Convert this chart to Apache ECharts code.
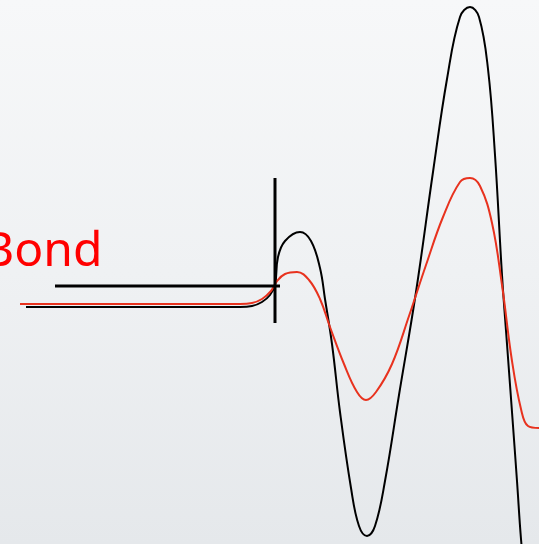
<!DOCTYPE html>
<html>
<head>
<meta charset="utf-8">
<script src="https://cdn.jsdelivr.net/npm/echarts@6/dist/echarts.min.js"></script>
<style>
    html, body { margin: 0; padding: 0; }
    #chart { width: 539px; height: 544px; }
</style>
</head>
<body>
<div id="chart"></div>
<script>
    // 黑色曲线 (time, amplitude)
    var blackX = [26, 240, 252, 262, 270, 275, 278, 285, 300, 311, 320, 325, 332, 340, 351, 359, 367, 375, 385, 399, 416, 433, 447, 460, 470, 479, 488, 495, 502, 507, 512, 517, 521, 524];
    var blackY = [0, 0, 1, 5, 12, 22, 50, 66, 75, 66, 39, 8, -37, -105, -181, -219, -229, -219, -174, -88, 15, 135, 228, 290, 300, 290, 238, 152, 32, -37, -105, -174, -232, -260];
    // 红色曲线
    var redX = [20, 240, 252, 262, 271, 277, 285, 297, 309, 320, 330, 344, 357, 366, 376, 392, 409, 426, 443, 460, 470, 480, 492, 502, 512, 521, 528, 539];
    var redY = [3, 3, 4, 8, 16, 26, 33, 35, 27, 8, -20, -57, -85, -93, -85, -57, -9, 42, 90, 125, 129, 121, 84, 22, -54, -102, -119, -121];
    // 标记线
    var hLineX = [55, 280];
    var hLineY = 21;
    var vLineX = 275;
    var vLineY = [129, -16];

    function pairs(xs, ys) {
        return xs.map(function (x, i) { return [x, ys[i]]; });
    }

    var chart = echarts.init(document.getElementById('chart'));
    var option = {
        animation: false,
        backgroundColor: {
            type: 'linear', x: 0, y: 0, x2: 0, y2: 1,
            colorStops: [
                {offset: 0, color: '#f7f8f9'},
                {offset: 0.5, color: '#eff1f3'},
                {offset: 1, color: '#e5e8eb'}
            ]
        },
        grid: {left: 0, right: 0, top: 0, bottom: 0},
        xAxis: {type: 'value', min: 0, max: 539, show: false},
        yAxis: {type: 'value', min: -237, max: 307, show: false},
        graphic: [{
            type: 'text',
            left: -17,
            top: 228,
            style: {
                text: 'Bond',
                fill: '#ff0000',
                font: '48px "Noto Sans"'
            }
        }],
        series: [
            {
                type: 'line',
                data: pairs(blackX, blackY),
                smooth: 0.4,
                symbol: 'none',
                lineStyle: {color: '#000000', width: 2}
            },
            {
                type: 'line',
                data: pairs(redX, redY),
                smooth: 0.4,
                symbol: 'none',
                lineStyle: {color: '#e8321e', width: 2}
            },
            {
                type: 'line',
                data: [[hLineX[0], hLineY], [hLineX[1], hLineY]],
                symbol: 'none',
                lineStyle: {color: '#000000', width: 3}
            },
            {
                type: 'line',
                data: [[vLineX, vLineY[0]], [vLineX, vLineY[1]]],
                symbol: 'none',
                lineStyle: {color: '#000000', width: 3}
            }
        ]
    };
    chart.setOption(option);
</script>
</body>
</html>
